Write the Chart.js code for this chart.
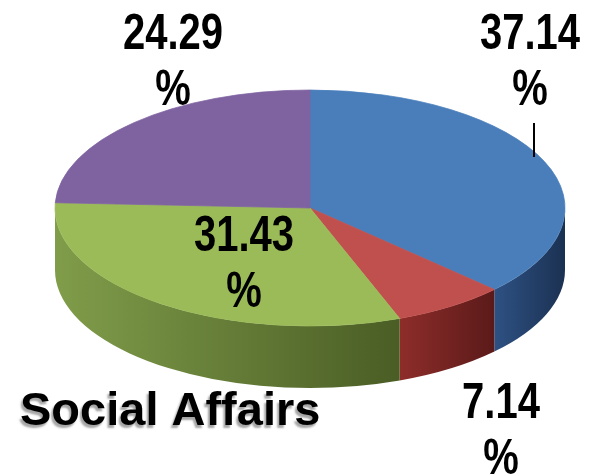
<!DOCTYPE html>
<html>
<head>
<meta charset="utf-8">
<script src="https://cdn.jsdelivr.net/npm/chart.js@4.4.1/dist/chart.umd.min.js"></script>
<style>
  html, body { margin: 0; padding: 0; background: #fff; }
  #wrap { width: 590px; height: 476px; }
</style>
</head>
<body>
<div id="wrap"><canvas id="pie" width="590" height="476"></canvas></div>
<script>
// data
const categories = ['Slice 1', 'Slice 2', 'Slice 3', 'Slice 4'];
const shares = [37.14, 7.14, 31.43, 24.29];
const chartTitle = 'Social Affairs';

// styles
const topColors = ['#4a7ebb', '#c0504d', '#9bbb59', '#7f63a1'];
const sideLight = ['#2e5183', '#8e2d2a', '#809d4a', '#5e4878'];
const sideDark = ['#1b3152', '#5a1a19', '#4a5d25', '#3f2f52'];
const labelPos = [[530, 49], [501, 418], [244, 251], [173, 49]];

const TILT = 118 / 255; // vertical squash of the pie
const DEPTH = 62;       // thickness of the side wall
const NARROW = 0.8;     // stand-in for a narrow bold face

function narrowText(ctx, text, x, y) {
    ctx.save();
    ctx.translate(x, y);
    ctx.scale(NARROW, 1);
    ctx.fillText(text, 0, 0);
    ctx.restore();
}

const pie3d = {
    id: 'pie3d',
    beforeDatasetsDraw(chart) {
        const ctx = chart.ctx;
        const arcs = chart.getDatasetMeta(0).data;
        if (!arcs.length) return;
        const cx = arcs[0].x, cy = arcs[0].y, r = arcs[0].outerRadius;

        // front wall: only canvas angles 0..PI face the viewer
        arcs.forEach((arc, i) => {
            const a0 = Math.max(arc.startAngle, 0);
            const a1 = Math.min(arc.endAngle, Math.PI);
            if (a1 <= a0) return;
            const xl = cx + r * Math.cos(a1);
            const xr = cx + r * Math.cos(a0);
            const g = ctx.createLinearGradient(xl, 0, xr, 0);
            g.addColorStop(0, sideLight[i]);
            g.addColorStop(1, sideDark[i]);
            ctx.beginPath();
            ctx.ellipse(cx, cy, r, r * TILT, 0, a0, a1);
            ctx.ellipse(cx, cy + DEPTH, r, r * TILT, 0, a1, a0, true);
            ctx.closePath();
            ctx.fillStyle = g;
            ctx.fill();
        });

        // squash the top face
        ctx.save();
        ctx.translate(0, cy);
        ctx.scale(1, TILT);
        ctx.translate(0, -cy);
    },
    afterDatasetsDraw(chart) {
        chart.ctx.restore();
    },
    afterDraw(chart) {
        const ctx = chart.ctx;
        ctx.save();
        ctx.fillStyle = '#000';
        ctx.textAlign = 'center';
        ctx.textBaseline = 'alphabetic';
        ctx.font = 'bold 50px "Liberation Sans", Arial, sans-serif';
        shares.forEach((v, i) => {
            const [x, y] = labelPos[i];
            narrowText(ctx, v.toFixed(2), x, y);
            narrowText(ctx, '%', x, y + 56);
        });

        // leader line under the first label
        ctx.strokeStyle = '#000';
        ctx.lineWidth = 2;
        ctx.beginPath();
        ctx.moveTo(534, 123);
        ctx.lineTo(534, 157);
        ctx.stroke();

        // title with a soft drop shadow
        ctx.textAlign = 'left';
        ctx.font = 'bold 47px "Liberation Sans", Arial, sans-serif';
        ctx.shadowColor = 'rgba(0, 0, 0, 0.35)';
        ctx.shadowOffsetX = -2;
        ctx.shadowOffsetY = 3;
        ctx.shadowBlur = 2;
        ctx.fillText(chartTitle, 20, 425);
        ctx.restore();
    }
};

new Chart(document.getElementById('pie'), {
    type: 'pie',
    data: {
        labels: categories,
        datasets: [{
            data: shares,
            backgroundColor: topColors,
            borderColor: topColors,
            borderWidth: 1,
            clip: false
        }]
    },
    options: {
        responsive: false,
        animation: false,
        devicePixelRatio: 1,
        radius: 255,
        layout: { padding: { left: 30, right: 0, top: 0, bottom: 60 } },
        plugins: {
            legend: { display: false },
            tooltip: { enabled: false },
            title: { display: false }
        }
    },
    plugins: [pie3d]
});
</script>
</body>
</html>
